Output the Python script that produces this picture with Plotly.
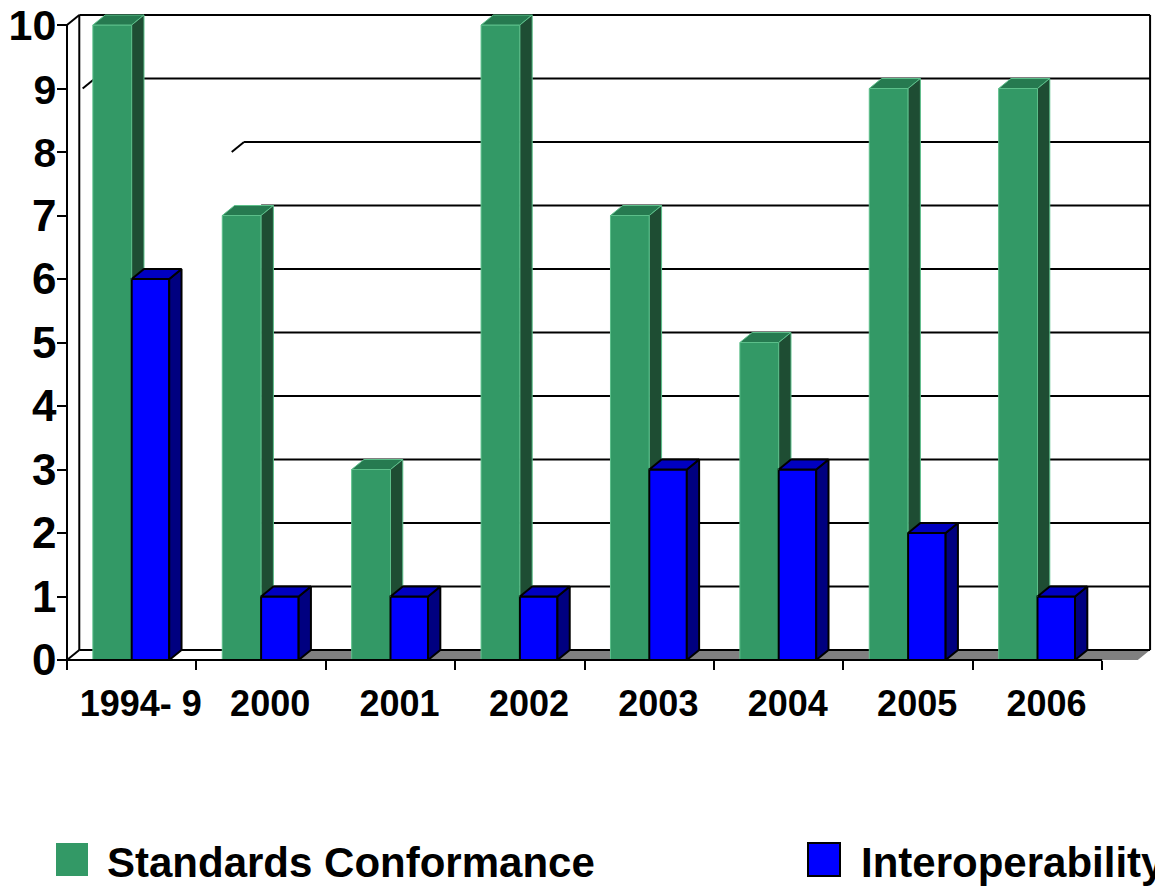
import plotly.graph_objects as go

# ---- data -------------------------------------------------------------
categories = ["1994- 9", "2000", "2001", "2002", "2003", "2004", "2005", "2006"]
standards_conformance = [10, 7, 3, 10, 7, 5, 9, 9]
interoperability = [6, 1, 1, 1, 3, 3, 2, 1]
y_tick_values = list(range(0, 11))

# ---- styling / geometry ---------------------------------------------
WIDTH, HEIGHT = 1155, 887
ML, MB, MT = 59, 217, 5          # margins in px
PX_X, PX_Y = 129.4, 63.5         # px per data unit
FRONT_X = -0.5                   # front-left corner of the floor
X0 = FRONT_X - (67 - ML) / PX_X
X1 = X0 + (WIDTH - ML) / PX_X
Y0 = -((HEIGHT - MB) - 660) / PX_Y
Y1 = Y0 + (HEIGHT - MB - MT) / PX_Y

DX, DY = 0.095, 0.1575           # 3-D depth offset
W_G, W_B = 0.30, 0.29            # bar widths
WALL_RIGHT = 7.87                # right edge of back wall
LABEL_SHIFT = 0.07               # category labels sit under the bar depth centre

GREEN_FRONT, GREEN_SIDE, GREEN_TOP, GREEN_EDGE = "#339966", "#1e4d33", "#267a50", "#5cbf8a"
BLUE_FRONT, BLUE_SIDE, BLUE_TOP = "#0000ff", "#000080", "#0000c0"
FLOOR = "#808080"
FONT = "Liberation Sans, Arial, sans-serif"


def paper_x(px):
    return (px - ML) / (WIDTH - ML)


def paper_y(py):
    return ((HEIGHT - MB) - py) / (HEIGHT - MB - MT)


def polygon(xs, ys, fill, line_color, line_width):
    return go.Scatter(
        x=list(xs) + [xs[0]], y=list(ys) + [ys[0]], mode="lines",
        fill="toself", fillcolor=fill,
        line=dict(color=line_color, width=line_width),
        hoverinfo="skip", showlegend=False,
    )


fig = go.Figure()
xs = list(range(len(categories)))

# front faces
fig.add_trace(go.Bar(
    x=xs, y=standards_conformance, offset=-W_G, width=W_G,
    marker=dict(color=GREEN_FRONT, line=dict(color=GREEN_EDGE, width=1)),
    name="Standards Conformance", showlegend=False,
))
fig.add_trace(go.Bar(
    x=xs, y=interoperability, offset=0, width=W_B,
    marker=dict(color=BLUE_FRONT, line=dict(color="black", width=2)),
    name="Interoperability", showlegend=False,
))

# depth faces (sides and tops)
for c, g, b in zip(xs, standards_conformance, interoperability):
    # green top
    fig.add_trace(polygon([c - W_G, c, c + DX, c - W_G + DX],
                          [g, g, g + DY, g + DY], GREEN_TOP, GREEN_EDGE, 1))
    # green side, visible above the blue bar
    if g > b:
        fig.add_trace(polygon([c, c, c + DX, c + DX],
                              [b, g, g + DY, b + DY], GREEN_SIDE, GREEN_EDGE, 1))
    # blue side
    fig.add_trace(polygon([c + W_B, c + W_B, c + W_B + DX, c + W_B + DX],
                          [0, b, b + DY, DY], BLUE_SIDE, "black", 2))
    # blue top
    fig.add_trace(polygon([c, c + W_B, c + W_B + DX, c + DX],
                          [b, b, b + DY, b + DY], BLUE_TOP, "black", 2))

# ---- walls, floor and grid -------------------------------------------
shapes = []
line = dict(color="black", width=2)

# gray floor strip
floor_start = 1.0
shapes.append(dict(
    type="path", layer="below", fillcolor=FLOOR, line=dict(width=0),
    path=f"M {floor_start},0 L {WALL_RIGHT - DX},0 L {WALL_RIGHT},{DY} L {floor_start + DX},{DY} Z",
))

# gridlines on back wall
grid_start = {1: 1.0, 2: 1.0, 3: 1.0, 4: 1.0, 5: 1.0, 6: 1.0, 7: 1.0,
              8: 0.868, 9: -0.284}
for v in y_tick_values:
    x_start = grid_start.get(v, FRONT_X + DX)
    shapes.append(dict(type="line", layer="below", x0=x_start, x1=WALL_RIGHT,
                       y0=v + DY, y1=v + DY, line=line))
    if v in (8, 9):
        shapes.append(dict(type="line", layer="below", x0=x_start - DX, x1=x_start,
                           y0=v, y1=v + DY, line=line))

# back wall edges
shapes += [
    dict(type="line", layer="below", x0=FRONT_X + DX, x1=FRONT_X + DX, y0=DY, y1=10 + DY, line=line),
    dict(type="line", layer="below", x0=WALL_RIGHT, x1=WALL_RIGHT, y0=DY, y1=10 + DY, line=line),
    dict(type="line", layer="below", x0=FRONT_X, x1=FRONT_X + DX, y0=10, y1=10 + DY, line=line),
    dict(type="line", layer="below", x0=FRONT_X, x1=FRONT_X + DX, y0=0, y1=DY, line=line),
    dict(type="line", layer="below", x0=FRONT_X, x1=FRONT_X, y0=0, y1=10, line=line),
]
# front floor edge
shapes.append(dict(type="line", layer="above", x0=FRONT_X, x1=len(categories) - 0.5,
                   y0=0, y1=0, line=line))

# ---- legend ------------------------------------------------------------
shapes += [
    dict(type="rect", xref="paper", yref="paper",
         x0=paper_x(56), x1=paper_x(88), y0=paper_y(876), y1=paper_y(843),
         fillcolor=GREEN_FRONT, line=dict(width=0)),
    dict(type="rect", xref="paper", yref="paper",
         x0=paper_x(808), x1=paper_x(840), y0=paper_y(876), y1=paper_y(843),
         fillcolor=BLUE_FRONT, line=dict(color="black", width=2)),
]
annotations = [
    dict(text="Standards Conformance", xref="paper", yref="paper",
         x=paper_x(105), y=paper_y(862), xanchor="left", yanchor="middle",
         showarrow=False, font=dict(family=FONT, size=42, color="black", weight="bold")),
    dict(text="Interoperability", xref="paper", yref="paper",
         x=paper_x(859), y=paper_y(862), xanchor="left", yanchor="middle",
         showarrow=False, font=dict(family=FONT, size=42, color="black", weight="bold")),
]

y_label_sizes = {10: 43, 9: 41, 8: 41}
y_tick_text = [f'<span style="font-size:{y_label_sizes.get(v, 44)}px">{v}</span>'
               for v in y_tick_values]

fig.update_layout(
    width=WIDTH, height=HEIGHT,
    margin=dict(l=ML, r=0, t=MT, b=MB),
    paper_bgcolor="white", plot_bgcolor="white",
    barmode="overlay", showlegend=False,
    shapes=shapes, annotations=annotations,
    xaxis=dict(
        range=[X0, X1], anchor="free", position=(0 - Y0) / (Y1 - Y0),
        showgrid=False, zeroline=False, showline=False,
        tickmode="array", tickvals=[i + LABEL_SHIFT for i in xs], ticktext=categories, ticks="",
        ticklabelstandoff=19,
        tickfont=dict(family=FONT, size=36, color="black", weight="bold"),
        minor=dict(tickmode="array", tickvals=[i - 0.5 for i in range(len(categories) + 1)],
                   ticks="outside", ticklen=9, tickwidth=2, tickcolor="black", showgrid=False),
        fixedrange=True,
    ),
    yaxis=dict(
        range=[Y0, Y1], anchor="free", position=(FRONT_X - X0) / (X1 - X0),
        showgrid=False, zeroline=False, showline=False,
        tickmode="array", tickvals=y_tick_values, ticktext=y_tick_text,
        ticks="outside", ticklen=10, tickwidth=2, tickcolor="black",
        ticklabelstandoff=-8,
        tickfont=dict(family=FONT, size=43, color="black", weight="bold"),
        fixedrange=True,
    ),
)

fig.write_html("out.html")
